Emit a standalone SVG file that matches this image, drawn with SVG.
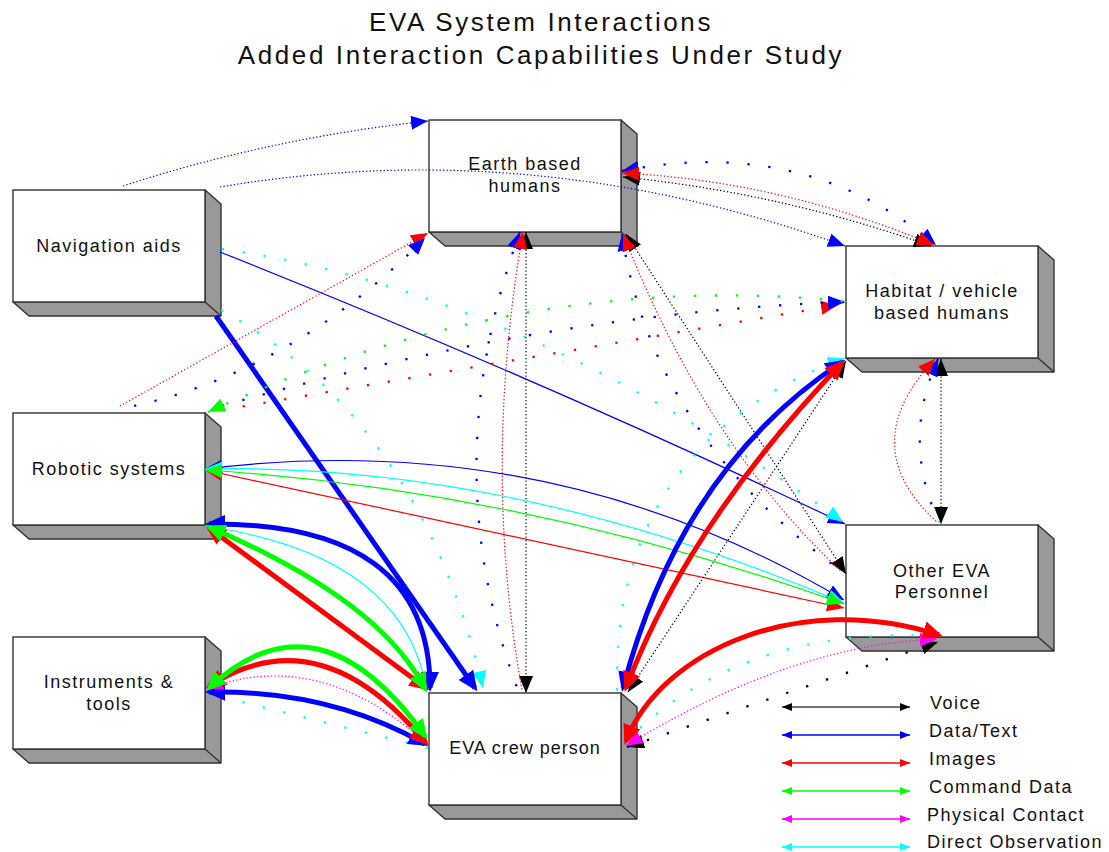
<svg xmlns="http://www.w3.org/2000/svg" width="1109" height="852" viewBox="0 0 1109 852">
<style>
text{font-family:"Liberation Sans",Arial,Helvetica,sans-serif;fill:#111}
.title{font-size:26px;letter-spacing:2.6px;text-anchor:middle}
.lbl{font-size:18px;letter-spacing:1.5px;text-anchor:middle}
.leg{font-size:18px;letter-spacing:1.5px}
.front{fill:#fff;stroke:#333;stroke-width:1.4}
.shade{fill:#999;stroke:#333;stroke-width:1.4;stroke-linejoin:round}
.fine{fill:none;stroke-width:1.2;stroke-dasharray:1.3 2.2}
.sparse{fill:none;stroke-width:2.3;stroke-dasharray:2.3 18.7}
.thin{fill:none;stroke-width:1.2}
.thick{fill:none;stroke-width:5}
.legl{fill:none;stroke-width:1.6}
</style>
<defs>
<marker id="kM" viewBox="0 0 17 14" refX="17" refY="7" markerWidth="17" markerHeight="14" markerUnits="userSpaceOnUse" orient="auto-start-reverse"><path d="M0,0L17,7L0,14z" fill="#000"/></marker>
<marker id="bM" viewBox="0 0 17 14" refX="17" refY="7" markerWidth="17" markerHeight="14" markerUnits="userSpaceOnUse" orient="auto-start-reverse"><path d="M0,0L17,7L0,14z" fill="#00f"/></marker>
<marker id="rM" viewBox="0 0 17 14" refX="17" refY="7" markerWidth="17" markerHeight="14" markerUnits="userSpaceOnUse" orient="auto-start-reverse"><path d="M0,0L17,7L0,14z" fill="#f00"/></marker>
<marker id="gM" viewBox="0 0 17 14" refX="17" refY="7" markerWidth="17" markerHeight="14" markerUnits="userSpaceOnUse" orient="auto-start-reverse"><path d="M0,0L17,7L0,14z" fill="#0f0"/></marker>
<marker id="mM" viewBox="0 0 17 14" refX="17" refY="7" markerWidth="17" markerHeight="14" markerUnits="userSpaceOnUse" orient="auto-start-reverse"><path d="M0,0L17,7L0,14z" fill="#f0f"/></marker>
<marker id="cM" viewBox="0 0 17 14" refX="17" refY="7" markerWidth="17" markerHeight="14" markerUnits="userSpaceOnUse" orient="auto-start-reverse"><path d="M0,0L17,7L0,14z" fill="#0ff"/></marker>
<marker id="bT" viewBox="0 0 20 18" refX="16" refY="9" markerWidth="20" markerHeight="18" markerUnits="userSpaceOnUse" orient="auto-start-reverse"><path d="M0,0L20,9L0,18z" fill="#00f"/></marker>
<marker id="rT" viewBox="0 0 20 18" refX="16" refY="9" markerWidth="20" markerHeight="18" markerUnits="userSpaceOnUse" orient="auto-start-reverse"><path d="M0,0L20,9L0,18z" fill="#f00"/></marker>
<marker id="gT" viewBox="0 0 20 18" refX="16" refY="9" markerWidth="20" markerHeight="18" markerUnits="userSpaceOnUse" orient="auto-start-reverse"><path d="M0,0L20,9L0,18z" fill="#0f0"/></marker>
<marker id="kS" viewBox="0 0 10 8" refX="10" refY="4" markerWidth="10" markerHeight="8" markerUnits="userSpaceOnUse" orient="auto-start-reverse"><path d="M0,0L10,4L0,8z" fill="#000"/></marker>
<marker id="bS" viewBox="0 0 10 8" refX="10" refY="4" markerWidth="10" markerHeight="8" markerUnits="userSpaceOnUse" orient="auto-start-reverse"><path d="M0,0L10,4L0,8z" fill="#00f"/></marker>
<marker id="rS" viewBox="0 0 10 8" refX="10" refY="4" markerWidth="10" markerHeight="8" markerUnits="userSpaceOnUse" orient="auto-start-reverse"><path d="M0,0L10,4L0,8z" fill="#f00"/></marker>
<marker id="gS" viewBox="0 0 10 8" refX="10" refY="4" markerWidth="10" markerHeight="8" markerUnits="userSpaceOnUse" orient="auto-start-reverse"><path d="M0,0L10,4L0,8z" fill="#0f0"/></marker>
<marker id="mS" viewBox="0 0 10 8" refX="10" refY="4" markerWidth="10" markerHeight="8" markerUnits="userSpaceOnUse" orient="auto-start-reverse"><path d="M0,0L10,4L0,8z" fill="#f0f"/></marker>
<marker id="cS" viewBox="0 0 10 8" refX="10" refY="4" markerWidth="10" markerHeight="8" markerUnits="userSpaceOnUse" orient="auto-start-reverse"><path d="M0,0L10,4L0,8z" fill="#0ff"/></marker>
<g id="box3d">
<polygon class="shade" points="192,0 208,14 208,126 16,126 0,112 192,112"/>
<line x1="192" y1="112" x2="208" y2="126" stroke="#333" stroke-width="1.4"/>
<rect class="front" x="0" y="0" width="192" height="112"/>
</g>
</defs>
<rect width="1109" height="852" fill="#fff"/>
<g id="title">
<text class="title" x="541" y="31">EVA System Interactions</text>
<text class="title" x="541" y="64">Added Interaction Capabilities Under Study</text>
</g>
<g id="nav" transform="translate(13,190)"><use href="#box3d"/><text class="lbl" x="96" y="62">Navigation aids</text></g>
<g id="earth" transform="translate(429,120)"><use href="#box3d"/><text class="lbl" x="96" y="50">Earth based</text><text class="lbl" x="96" y="72">humans</text></g>
<g id="habitat" transform="translate(846,246)"><use href="#box3d"/><text class="lbl" x="96" y="51">Habitat / vehicle</text><text class="lbl" x="96" y="73">based humans</text></g>
<g id="robotic" transform="translate(13,413)"><use href="#box3d"/><text class="lbl" x="96" y="62">Robotic systems</text></g>
<g id="instruments" transform="translate(13,637)"><use href="#box3d"/><text class="lbl" x="96" y="51">Instruments &amp;</text><text class="lbl" x="96" y="73">tools</text></g>
<g id="eva" transform="translate(429,693)"><use href="#box3d"/><text class="lbl" x="96" y="61" style="letter-spacing:1px">EVA crew person</text></g>
<g id="other" transform="translate(846,525)"><use href="#box3d"/><text class="lbl" x="96" y="52">Other EVA</text><text class="lbl" x="96" y="73">Personnel</text></g>
<g id="connectors">
<!-- Navigation aids -->
<path class="fine" stroke="#00f" d="M123,186 Q270,138 428,121" marker-end="url(#bM)"/>
<path class="fine" stroke="#00f" d="M220,187 Q533,134 845,246" marker-end="url(#bM)"/>
<path class="thin" stroke="#00f" d="M220,252 Q533,376 845,524" marker-end="url(#bM)"/>
<path class="sparse" stroke="#0ff" d="M222,249 Q520,290 843,522" marker-end="url(#cM)"/>
<path class="sparse" stroke="#0ff" d="M221,310 Q421,420 483,688" marker-end="url(#cM)"/>
<path class="thick" stroke="#00f" d="M216,316 L475,688" marker-end="url(#bT)"/>
<!-- Robotic to Earth / Habitat -->
<path class="fine" stroke="#f00" d="M120,406 L428,233" marker-end="url(#rM)"/>
<path class="sparse" stroke="#00f" d="M134,406 Q295,370 425,238" marker-end="url(#bM)"/>
<path class="sparse" stroke="#f00" d="M222,410 L838,305" marker-end="url(#rM)"/>
<path class="sparse" stroke="#00f" d="M222,406 Q545,313 845,302" marker-end="url(#bM)"/>
<path class="sparse" stroke="#0f0" d="M843,301 Q520,270 208,412" marker-end="url(#gM)"/>
<!-- Earth - Habitat -->
<path class="fine" stroke="#000" d="M623,177 Q781,193 931,246" marker-start="url(#kM)" marker-end="url(#kM)"/>
<path class="sparse" stroke="#00f" d="M622,171 Q805,135 936,245" marker-start="url(#bM)" marker-end="url(#bM)"/>
<path class="fine" stroke="#f00" d="M622,173 Q781,181 934,245" marker-start="url(#rM)" marker-end="url(#rM)"/>
<!-- Earth - EVA crew -->
<path class="fine" stroke="#000" d="M526,232 L526,693" marker-start="url(#kM)" marker-end="url(#kM)"/>
<path class="sparse" stroke="#00f" d="M520,232 Q434,467 518,690" marker-start="url(#bM)"/>
<path class="fine" stroke="#f00" d="M523,232 Q482,468 522,690" marker-start="url(#rM)"/>
<!-- Earth - Other EVA -->
<path class="fine" stroke="#000" d="M626,234 L846,574" marker-start="url(#kM)" marker-end="url(#kM)"/>
<path class="sparse" stroke="#00f" d="M622,234 Q652,435 843,572" marker-start="url(#bM)"/>
<path class="fine" stroke="#f00" d="M623,234 Q707,447 842,572" marker-start="url(#rM)"/>
<!-- Habitat - Other EVA -->
<path class="fine" stroke="#000" d="M941,359 L941,524" marker-start="url(#kM)" marker-end="url(#kM)"/>
<path class="sparse" stroke="#00f" d="M938,359 Q901,441 939,522" marker-start="url(#bM)"/>
<path class="fine" stroke="#f00" d="M935,359 Q853,446 937,522" marker-start="url(#rM)"/>
<!-- Robotic - Other EVA -->
<path class="thin" stroke="#f00" d="M205,470 L844,608" marker-start="url(#rM)" marker-end="url(#rM)"/>
<path class="thin" stroke="#00f" d="M205,469 Q550,426 844,600" marker-start="url(#bM)" marker-end="url(#bM)"/>
<path class="thin" stroke="#0ff" stroke-width="2.8" d="M205,469 Q510,462 844,603" marker-start="url(#cM)" marker-end="url(#cM)"/>
<path class="thin" stroke="#0f0" d="M205,470 Q529,491 844,604" marker-start="url(#gM)" marker-end="url(#gM)"/>
<!-- Habitat - EVA crew -->
<path class="sparse" stroke="#0ff" d="M617,690 Q612,444 845,358" marker-end="url(#cM)"/>
<path class="fine" stroke="#000" d="M628,692 L846,361" marker-start="url(#kM)" marker-end="url(#kM)"/>
<path class="thick" stroke="#00f" d="M623,688 Q681,468 842,362" marker-start="url(#bT)" marker-end="url(#bT)"/>
<path class="thick" stroke="#f00" d="M626,688 Q688,524 842,363" marker-start="url(#rT)" marker-end="url(#rT)"/>
<!-- Other EVA - EVA crew -->
<path class="sparse" stroke="#0ff" d="M640,728 Q752,627 935,636"/>
<path class="sparse" stroke="#000" d="M627,747 L938,642" marker-start="url(#kM)" marker-end="url(#kM)"/>
<path class="fine" stroke="#f0f" d="M626,746 Q790,645 937,639" marker-start="url(#mM)" marker-end="url(#mM)"/>
<path class="thick" stroke="#f00" d="M626,741 C662,650 800,590 939,635" marker-start="url(#rT)" marker-end="url(#rT)"/>
<!-- Robotic - EVA crew -->
<path class="thin" stroke="#0ff" d="M205,526 Q405,555 427,692" marker-start="url(#cM)" marker-end="url(#cM)"/>
<path class="thick" stroke="#f00" d="M209,528 L426,688" marker-start="url(#rT)" marker-end="url(#rT)"/>
<path class="thick" stroke="#00f" d="M209,524 Q430,522 430,688" marker-start="url(#bT)" marker-end="url(#bT)"/>
<path class="thick" stroke="#0f0" d="M209,527 Q380,600 425,689" marker-start="url(#gT)" marker-end="url(#gT)"/>
<!-- Instruments - EVA crew -->
<path class="sparse" stroke="#0ff" d="M222,697 L428,748"/>
<path class="thick" stroke="#00f" d="M209,692 Q330,690 425,744" marker-start="url(#bT)" marker-end="url(#bT)"/>
<path class="fine" stroke="#f0f" d="M206,689 Q320,646 428,745" marker-start="url(#mM)" marker-end="url(#mM)"/>
<path class="thick" stroke="#f00" d="M209,686 Q320,615 426,743" marker-start="url(#rT)" marker-end="url(#rT)"/>
<path class="thick" stroke="#0f0" d="M209,688 Q318,586 425,736" marker-start="url(#gT)" marker-end="url(#gT)"/>
</g>
<g id="legend">
<path class="legl" stroke="#444" d="M782,707 L910,707" marker-start="url(#kS)" marker-end="url(#kS)"/>
<path class="legl" stroke="#00f" d="M782,735 L910,735" marker-start="url(#bS)" marker-end="url(#bS)"/>
<path class="legl" stroke="#f00" d="M782,763 L910,763" marker-start="url(#rS)" marker-end="url(#rS)"/>
<path class="legl" stroke="#0f0" d="M782,791 L910,791" marker-start="url(#gS)" marker-end="url(#gS)"/>
<path class="legl" stroke="#f0f" d="M782,819 L910,819" marker-start="url(#mS)" marker-end="url(#mS)"/>
<path class="legl" stroke="#0ff" d="M782,847 L910,847" marker-start="url(#cS)" marker-end="url(#cS)"/>
<text class="leg" x="930" y="709">Voice</text>
<text class="leg" x="929" y="737">Data/Text</text>
<text class="leg" x="929" y="765">Images</text>
<text class="leg" x="929" y="793">Command Data</text>
<text class="leg" x="927" y="821">Physical Contact</text>
<text class="leg" x="927" y="848">Direct Observation</text>
</g>
</svg>
